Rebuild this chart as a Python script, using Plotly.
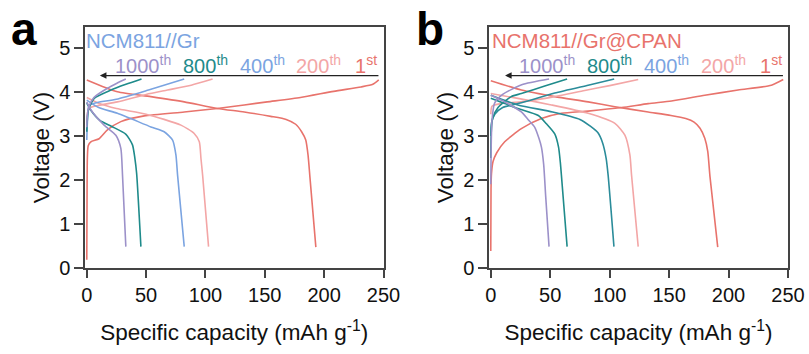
import plotly.graph_objects as go

# ---------------- data ----------------
cycles = ["1st", "200th", "400th", "800th", "1000th"]
label_text = ["1<sup>st</sup>", "200<sup>th</sup>", "400<sup>th</sup>", "800<sup>th</sup>", "1000<sup>th</sup>"]
x_ticks = [0, 50, 100, 150, 200, 250]
y_ticks = [0, 1, 2, 3, 4, 5]

# Panel a: NCM811//Gr
a1_chg_q = [0, 0.2, 0.5, 1.2, 3.4, 10.4, 17.4, 28.7, 48.4, 82.1, 110, 132.7, 152, 180, 208, 231, 241, 246]
a1_chg_v = [0.18, 1.5, 2.5, 2.78, 2.87, 2.94, 3.14, 3.33, 3.46, 3.55, 3.63, 3.71, 3.78, 3.88, 4.02, 4.12, 4.18, 4.28]
a1_dis_q = [0, 25.8, 54, 82.1, 110, 132.7, 155, 168, 176, 181, 184.5, 186.5, 188, 193]
a1_dis_v = [4.28, 4.01, 3.90, 3.78, 3.63, 3.55, 3.45, 3.38, 3.27, 3.10, 2.91, 2.55, 2.07, 0.47]

a200_chg_q = [0, 0.8, 3, 10, 25.8, 50, 68, 88, 106]
a200_chg_v = [3.3, 3.55, 3.65, 3.70, 3.78, 3.95, 4.05, 4.16, 4.30]
a200_dis_q = [0, 10, 25, 50, 79.3, 90.5, 94.8, 96.2, 97.6, 102.6]
a200_dis_v = [3.88, 3.75, 3.63, 3.50, 3.25, 3.06, 2.87, 2.49, 2.11, 0.48]

a400_chg_q = [0, 0.5, 1.9, 8, 25, 52, 82.1]
a400_chg_v = [2.91, 3.3, 3.7, 3.76, 3.84, 4.05, 4.30]
a400_dis_q = [0, 10, 25.8, 54, 65.2, 72.3, 75.1, 76.5, 82.1]
a400_dis_v = [3.82, 3.65, 3.52, 3.21, 3.10, 2.91, 2.57, 2.11, 0.48]

a800_chg_q = [0, 0.4, 1.4, 6.2, 20.3, 33, 46.1]
a800_chg_v = [3.1, 3.35, 3.6, 3.86, 4.05, 4.18, 4.30]
a800_dis_q = [0, 3.4, 11, 21, 33, 38.5, 40.5, 42, 45.6]
a800_dis_v = [3.75, 3.59, 3.36, 3.22, 3.04, 2.80, 2.50, 2.15, 0.48]

a1000_chg_q = [0, 0.4, 1.5, 6, 17.4, 25, 32.9]
a1000_chg_v = [3.2, 3.45, 3.65, 3.88, 4.09, 4.20, 4.30]
a1000_dis_q = [0, 3.4, 14.6, 24.5, 28.7, 30.1, 32.9]
a1000_dis_v = [3.78, 3.60, 3.25, 3.02, 2.72, 2.11, 0.48]

# Panel b: NCM811//Gr@CPAN
b1_chg_q = [0, 0.2, 0.6, 1.9, 5, 11.7, 25.7, 42.6, 59.4, 81.9, 110, 132.4, 152, 180, 208, 236, 246]
b1_chg_v = [0.38, 1.8, 2.15, 2.42, 2.62, 2.87, 3.17, 3.40, 3.52, 3.57, 3.65, 3.74, 3.80, 3.93, 4.05, 4.16, 4.29]
b1_dis_q = [0, 25.7, 53.8, 81.9, 104.4, 132.4, 151.5, 164, 171, 176, 180, 182.5, 184.4, 190.9]
b1_dis_v = [4.26, 4.05, 3.90, 3.78, 3.67, 3.55, 3.47, 3.40, 3.32, 3.18, 2.95, 2.65, 2.07, 0.47]

b200_chg_q = [0, 1, 8, 25, 53.8, 79, 100, 124]
b200_chg_v = [3.5, 3.68, 3.74, 3.78, 3.90, 4.04, 4.15, 4.29]
b200_dis_q = [0, 22.8, 51, 81.9, 104.4, 112.8, 117, 118.4, 124]
b200_dis_v = [3.97, 3.86, 3.71, 3.52, 3.29, 3.02, 2.57, 2.11, 0.48]

b400_chg_q = [0, 0.6, 3.5, 10, 25.7, 53.8, 81.9, 103.8]
b400_chg_v = [3.0, 3.3, 3.5, 3.65, 3.76, 3.98, 4.16, 4.30]
b400_dis_q = [0, 22.8, 52, 75, 84, 90, 94, 97, 98.7, 103.6]
b400_dis_v = [3.93, 3.71, 3.55, 3.38, 3.22, 3.08, 2.85, 2.50, 2.11, 0.48]

b800_chg_q = [0, 0.4, 1.5, 6.1, 17.2, 25.7, 45.4, 64.2]
b800_chg_v = [2.5, 3.1, 3.4, 3.65, 3.90, 3.97, 4.14, 4.30]
b800_dis_q = [0, 22.8, 40, 46.8, 53.8, 57, 58.5, 59.4, 64.2]
b800_dis_v = [3.86, 3.63, 3.47, 3.28, 3.05, 2.75, 2.40, 2.11, 0.48]

b1000_chg_q = [0, 0.3, 1, 3.2, 10, 26, 49]
b1000_chg_v = [1.9, 2.7, 3.35, 3.75, 3.95, 4.17, 4.30]
b1000_dis_q = [0, 11.6, 25.7, 31.3, 37, 40.5, 42.6, 44.5, 46.2, 49]
b1000_dis_v = [3.93, 3.78, 3.55, 3.38, 3.20, 2.95, 2.75, 2.35, 1.62, 0.48]

panel_a_curves = {
    "1st": [(a1_chg_q, a1_chg_v), (a1_dis_q, a1_dis_v)],
    "200th": [(a200_chg_q, a200_chg_v), (a200_dis_q, a200_dis_v)],
    "400th": [(a400_chg_q, a400_chg_v), (a400_dis_q, a400_dis_v)],
    "800th": [(a800_chg_q, a800_chg_v), (a800_dis_q, a800_dis_v)],
    "1000th": [(a1000_chg_q, a1000_chg_v), (a1000_dis_q, a1000_dis_v)],
}
panel_b_curves = {
    "1st": [(b1_chg_q, b1_chg_v), (b1_dis_q, b1_dis_v)],
    "200th": [(b200_chg_q, b200_chg_v), (b200_dis_q, b200_dis_v)],
    "400th": [(b400_chg_q, b400_chg_v), (b400_dis_q, b400_dis_v)],
    "800th": [(b800_chg_q, b800_chg_v), (b800_dis_q, b800_dis_v)],
    "1000th": [(b1000_chg_q, b1000_chg_v), (b1000_dis_q, b1000_dis_v)],
}

# ---------------- styles ----------------
FONT = "Liberation Sans, Arial, sans-serif"
label_colors = {"1st": "#E8736C", "200th": "#F3A6A6", "400th": "#7BA4E1",
                "800th": "#1F8B8B", "1000th": "#9C91C9"}
line_colors_a = dict(label_colors)
line_colors_b = dict(label_colors)
line_colors_b["400th"] = "#2B8C9A"
label_x = {"1000th": 22.0, "800th": 79.0, "400th": 127.5, "200th": 175.0, "1st": 224.5}
AX = "#444444"

W, H = 809, 354


def px(xw):
    return xw / W


def py(yw):
    return (H - yw) / H


fig = go.Figure()
for panel, curves, colors, xa, ya in [("a", panel_a_curves, line_colors_a, "x", "y"),
                                      ("b", panel_b_curves, line_colors_b, "x2", "y2")]:
    for cyc in cycles:
        for q, v in curves[cyc]:
            fig.add_trace(go.Scatter(x=q, y=v, mode="lines", xaxis=xa, yaxis=ya,
                                     line=dict(color=colors[cyc], width=1.6, shape="spline", smoothing=0.6),
                                     showlegend=False, hoverinfo="skip"))

ydom = [py(267.7), py(27.3)]

axis_common = dict(range=[-1.5, 250], tickvals=x_ticks, ticks="outside", ticklen=9, tickwidth=1.5,
                   tickcolor=AX, showline=True, linecolor=AX, linewidth=1.5, mirror=True, automargin=False,
                   showgrid=False, zeroline=False, tickfont=dict(size=20, color="#111", family=FONT),
                   title=dict(text="Specific capacity (mAh g<sup>-1</sup>)",
                              font=dict(size=22.5, color="#111", family=FONT), standoff=19))
yaxis_common = dict(range=[0, 5.48], tickvals=y_ticks, ticks="outside", ticklen=9, tickwidth=1.5,
                    tickcolor=AX, showline=True, linecolor=AX, linewidth=1.5, mirror=True, automargin=False,
                    showgrid=False, zeroline=False, tickfont=dict(size=20, color="#111", family=FONT),
                    title=dict(text="Voltage (V)", font=dict(size=22.5, color="#111", family=FONT), standoff=3))

fig.update_layout(
    width=W, height=H, margin=dict(l=0, r=0, t=0, b=0, autoexpand=False),
    paper_bgcolor="white", plot_bgcolor="white",
    font=dict(family=FONT),
    xaxis=dict(domain=[px(85), px(383.5)], anchor="y", **axis_common),
    yaxis=dict(domain=ydom, anchor="x", **yaxis_common),
    xaxis2=dict(domain=[px(489), px(788)], anchor="y2", **axis_common),
    yaxis2=dict(domain=ydom, anchor="x2", **yaxis_common),
)

annotations = []
for xa, ya, title, tcolor, tx, plabel, lx, arrow_head in [
        ("x", "y", "NCM811//Gr", "#7BA4E1", 83.5, "a", 8.5, 11.0),
        ("x2", "y2", "NCM811//Gr@CPAN", "#E8736C", 489.8, "b", 413.5, 12.0)]:
    annotations.append(dict(text=plabel, xref="paper", yref="paper", x=px(lx), y=py(28.5),
                            xanchor="left", yanchor="middle", showarrow=False,
                            font=dict(size=46, color="black", family=FONT, weight="bold")))
    annotations.append(dict(text=title, xref="paper", yref="paper", x=px(tx), y=py(40.5),
                            xanchor="left", yanchor="middle",
                            showarrow=False, font=dict(size=20.5, color=tcolor, family=FONT)))
    for cyc, txt in zip(cycles, label_text):
        annotations.append(dict(text=txt, xref=xa, yref=ya, x=label_x[cyc], y=4.63, xanchor="left",
                                yanchor="middle", showarrow=False,
                                font=dict(size=20, color=label_colors[cyc], family=FONT)))
    annotations.append(dict(text="", xref=xa, yref=ya, x=arrow_head, y=4.38, ax=247, ay=4.38,
                            axref=xa, ayref=ya, showarrow=True, arrowhead=2, arrowsize=1.1,
                            arrowwidth=1.2, arrowcolor="#222"))
fig.update_layout(annotations=annotations)

# remove the browser's default 8 px page margin so the 809x354 figure fills the window exactly
fig.write_html("out.html", config={"displayModeBar": False},
               post_script="document.body.style.margin='0';document.body.style.overflow='hidden';")
